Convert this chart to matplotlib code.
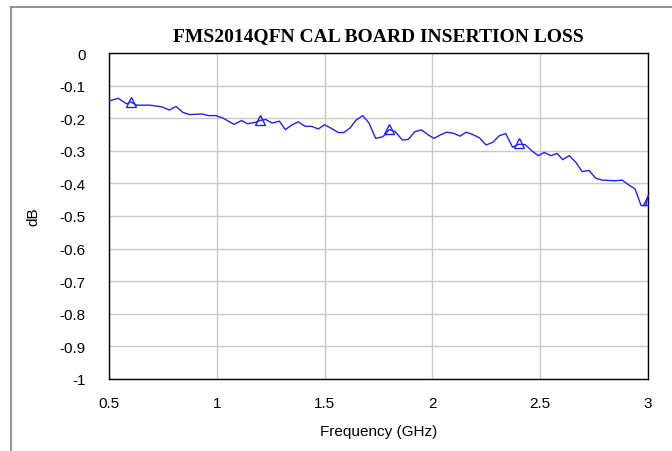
import matplotlib
matplotlib.use("Agg")
import matplotlib.pyplot as plt
from matplotlib.lines import Line2D

# values
freq_ghz = [0.500, 0.543, 0.582, 0.600, 0.628, 0.690, 0.744, 0.780, 0.811, 0.842,
            0.873, 0.930, 0.961, 0.996, 1.030, 1.080, 1.115, 1.142, 1.177, 1.200,
            1.227, 1.257, 1.290, 1.318, 1.347, 1.378, 1.409, 1.440, 1.471, 1.499,
            1.528, 1.564, 1.590, 1.618, 1.646, 1.677, 1.706, 1.737, 1.770, 1.800,
            1.827, 1.861, 1.888, 1.919, 1.950, 1.978, 2.007, 2.035, 2.066, 2.097,
            2.128, 2.156, 2.187, 2.218, 2.249, 2.280, 2.310, 2.340, 2.372, 2.400,
            2.430, 2.461, 2.491, 2.519, 2.550, 2.579, 2.604, 2.635, 2.665, 2.695,
            2.726, 2.757, 2.788, 2.847, 2.881, 2.909, 2.940, 2.968, 2.990, 3.000]
loss_db = [-0.147, -0.139, -0.156, -0.150, -0.160, -0.160, -0.165, -0.175, -0.164, -0.182,
           -0.189, -0.187, -0.192, -0.192, -0.200, -0.219, -0.207, -0.217, -0.213, -0.207,
           -0.204, -0.215, -0.209, -0.235, -0.221, -0.211, -0.225, -0.225, -0.233, -0.220,
           -0.230, -0.244, -0.244, -0.230, -0.206, -0.192, -0.215, -0.262, -0.257, -0.235,
           -0.241, -0.267, -0.265, -0.241, -0.236, -0.250, -0.262, -0.252, -0.243, -0.246,
           -0.255, -0.243, -0.250, -0.260, -0.282, -0.274, -0.254, -0.247, -0.289, -0.280,
           -0.281, -0.300, -0.315, -0.305, -0.315, -0.308, -0.327, -0.315, -0.335, -0.364,
           -0.360, -0.384, -0.390, -0.392, -0.390, -0.404, -0.417, -0.468, -0.468, -0.440]

marker_freq = [0.6, 1.2, 1.8, 2.4, 3.0]
marker_db = [-0.150, -0.205, -0.233, -0.277, -0.452]

x_ticks = [0.5, 1, 1.5, 2, 2.5, 3]
x_labels = ["0.5", "1", "1.5", "2", "2.5", "3"]
y_ticks = [0, -0.1, -0.2, -0.3, -0.4, -0.5, -0.6, -0.7, -0.8, -0.9, -1]
y_labels = ["0", "-0.1", "-0.2", "-0.3", "-0.4", "-0.5", "-0.6", "-0.7", "-0.8", "-0.9", "-1"]

plt.rcParams['font.family'] = ['Liberation Sans', 'DejaVu Sans']

fig = plt.figure(figsize=(6.72, 4.52), dpi=100)
ax = fig.add_axes([109 / 672, 1 - 380 / 452, 539 / 672, 326 / 452])

line_color = '#2020f8'
ax.plot(freq_ghz, loss_db, color=line_color, linewidth=1.0, zorder=3)
ax.plot(marker_freq, marker_db, linestyle='none', marker='^', markersize=7,
        markerfacecolor='none', markeredgecolor=line_color, markeredgewidth=1.0, zorder=4)

ax.set_xlim(0.5, 3)
ax.set_ylim(-1, 0)
ax.set_xticks(x_ticks)
ax.set_xticklabels(x_labels)
ax.set_yticks(y_ticks)
ax.set_yticklabels(y_labels)
ax.tick_params(axis='both', length=0, labelsize=11, colors='black')
ax.tick_params(axis='x', pad=12)
ax.tick_params(axis='y', pad=17)
ax.grid(True, color='#c8c8c8', linewidth=1.0)
ax.set_axisbelow(True)
for s in ax.spines.values():
    s.set_color('black')
    s.set_linewidth(1.0)

ax.set_xlabel("Frequency (GHz)", fontsize=11, va='center')
ax.xaxis.set_label_coords(0.5, (380 - 432) / 326)
ax.set_ylabel("dB", fontsize=11, va='center')
ax.yaxis.set_label_coords((33 - 109) / 539, 0.5)

fig.text(378.5 / 672, 1 - 37 / 452, "FMS2014QFN CAL BOARD INSERTION LOSS",
         family=['Liberation Serif', 'DejaVu Serif'], fontweight='bold', fontsize=14,
         ha='center', va='center')

# outer chart frame (only left and top edges fall inside the picture)
fx = 10.5 / 672
fy = 1 - 7.5 / 452
fig.add_artist(Line2D([fx, fx], [0, fy], transform=fig.transFigure, color='#808080', linewidth=1.2))
fig.add_artist(Line2D([fx, 1], [fy, fy], transform=fig.transFigure, color='#808080', linewidth=1.2))

fig.savefig("out.png", dpi=100)
